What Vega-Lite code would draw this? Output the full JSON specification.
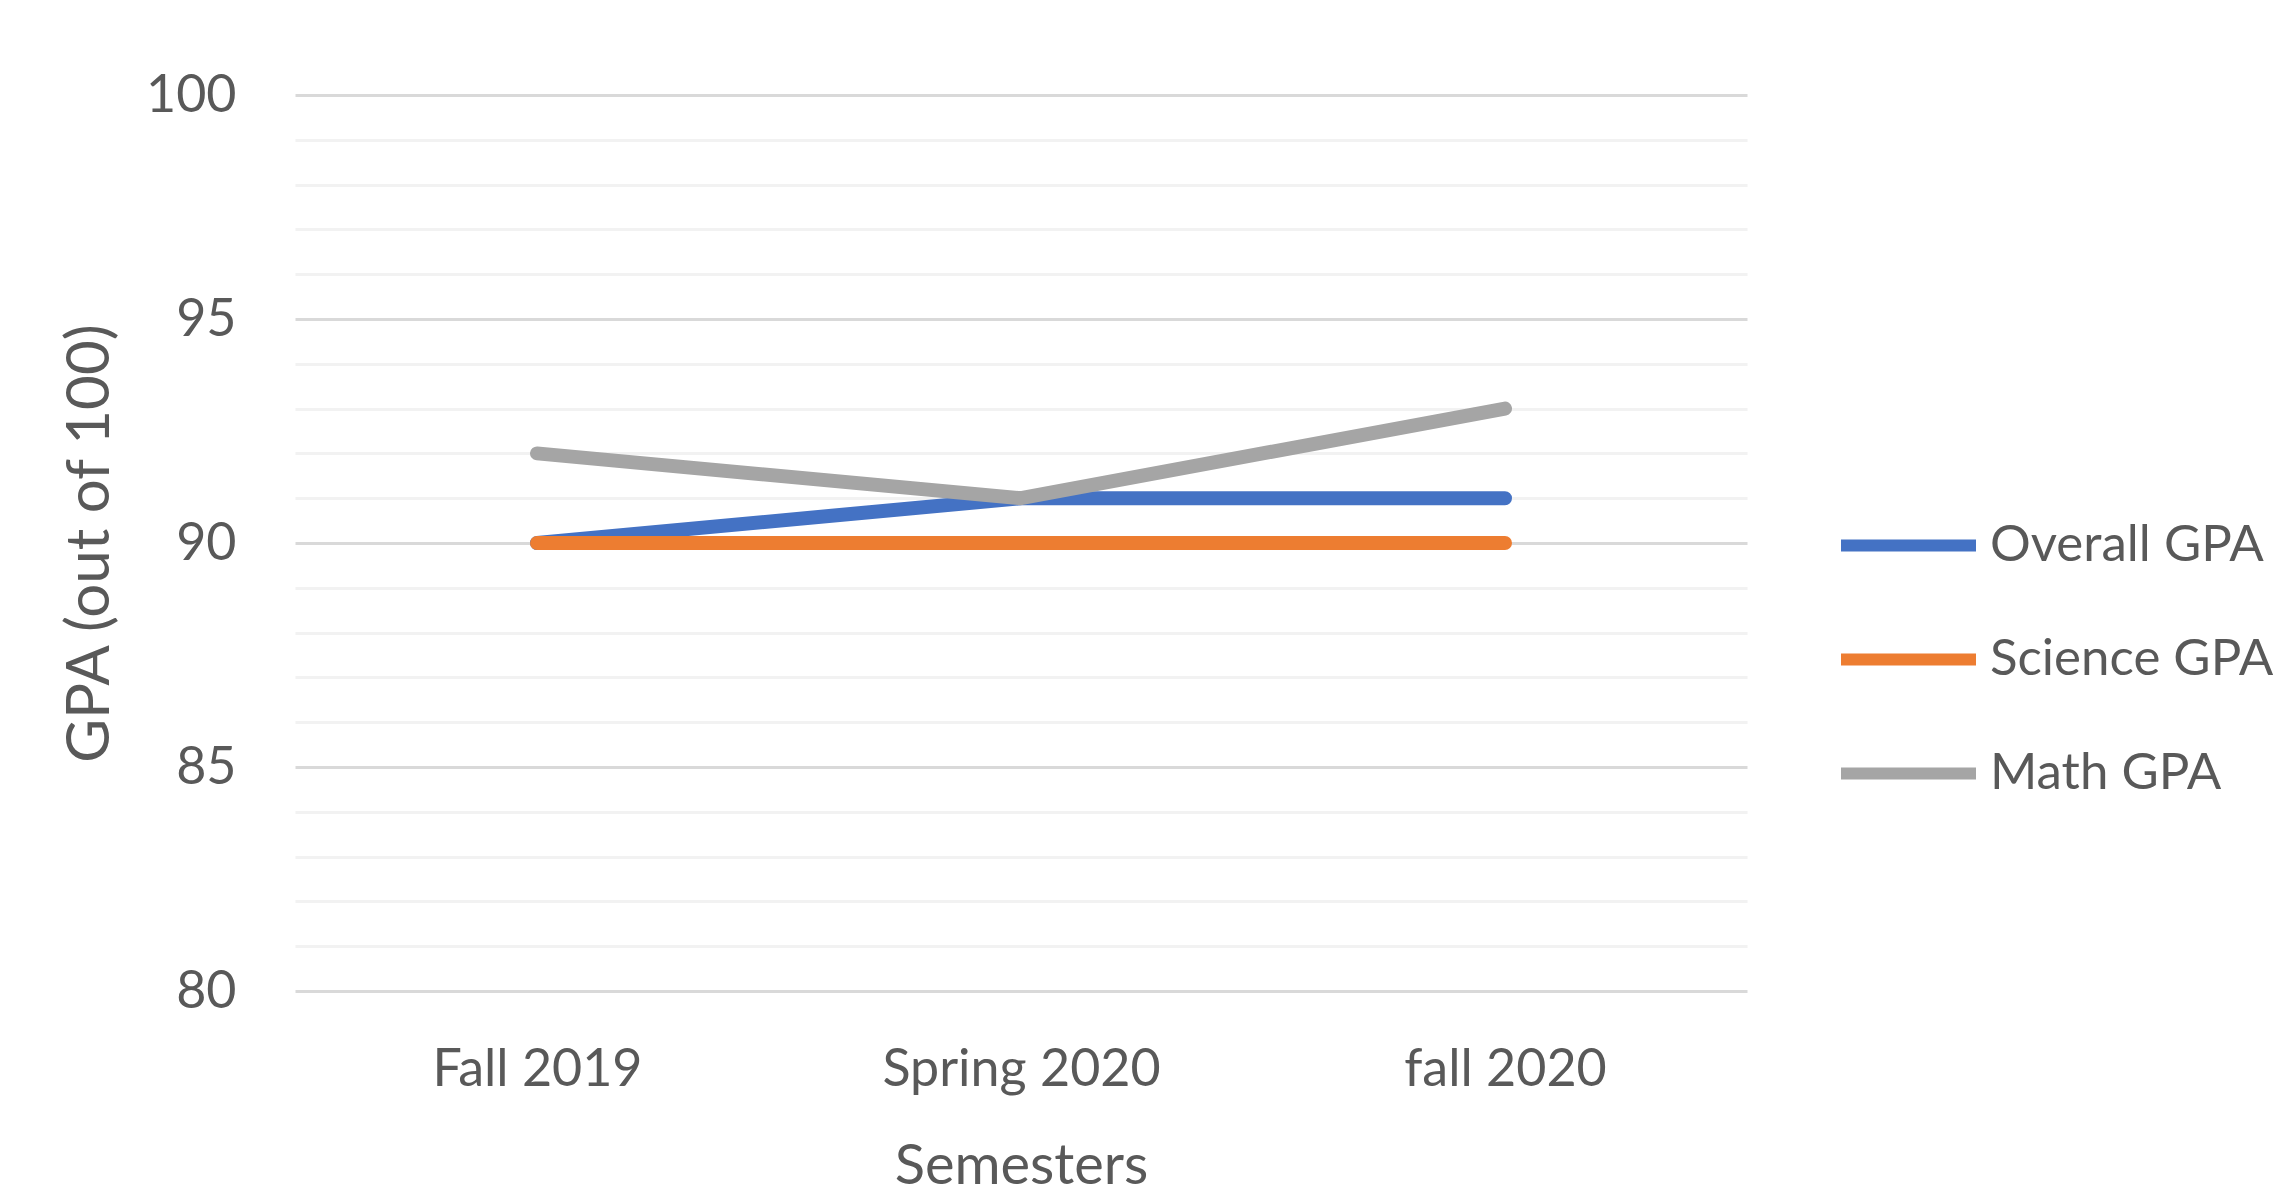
{
  "$schema": "https://vega.github.io/schema/vega-lite/v6.json",
  "autosize": {"type": "none"},
  "padding": {"left": 295, "top": 95, "right": 542, "bottom": 206},
  "width": 1452,
  "height": 896,
  "background": "white",
  "config": {
    "font": "Lato",
    "view": {"stroke": null}
  },
  "data": {
    "values": [
      {"semester": "Fall 2019", "series": "Overall GPA", "gpa": 90},
      {"semester": "Spring 2020", "series": "Overall GPA", "gpa": 91},
      {"semester": "fall 2020", "series": "Overall GPA", "gpa": 91},
      {"semester": "Fall 2019", "series": "Science GPA", "gpa": 90},
      {"semester": "Spring 2020", "series": "Science GPA", "gpa": 90},
      {"semester": "fall 2020", "series": "Science GPA", "gpa": 90},
      {"semester": "Fall 2019", "series": "Math GPA", "gpa": 92},
      {"semester": "Spring 2020", "series": "Math GPA", "gpa": 91},
      {"semester": "fall 2020", "series": "Math GPA", "gpa": 93}
    ]
  },
  "mark": {"type": "line", "strokeWidth": 14, "strokeCap": "round", "strokeJoin": "round"},
  "encoding": {
    "x": {
      "field": "semester",
      "type": "ordinal",
      "sort": ["Fall 2019", "Spring 2020", "fall 2020"],
      "title": "Semesters",
      "axis": {
        "domain": false,
        "ticks": false,
        "grid": false,
        "labelAngle": 0,
        "labelLimit": 0,
        "labelFontSize": 52,
        "labelColor": "#595959",
        "labelBaseline": "middle",
        "labelPadding": 78,
        "titleFontSize": 56,
        "titleFontWeight": "normal",
        "titleColor": "#595959",
        "titleBaseline": "middle",
        "titleY": 175
      }
    },
    "y": {
      "field": "gpa",
      "type": "quantitative",
      "scale": {"domain": [80, 100], "nice": false, "zero": false},
      "title": "GPA (out of 100)",
      "axis": {
        "values": [80, 81, 82, 83, 84, 85, 86, 87, 88, 89, 90, 91, 92, 93, 94, 95, 96, 97, 98, 99, 100],
        "labelExpr": "datum.value % 5 === 0 ? datum.label : ''",
        "domain": false,
        "ticks": false,
        "grid": true,
        "gridWidth": 3,
        "gridColor": {"condition": {"test": "datum.value % 5 === 0", "value": "#D9D9D9"}, "value": "#F2F2F2"},
        "labelFontSize": 52,
        "labelColor": "#595959",
        "labelPadding": 59,
        "titleFontSize": 60,
        "titleFontWeight": "normal",
        "titleColor": "#595959",
        "titleAngle": 270,
        "titleAlign": "center",
        "titleBaseline": "middle",
        "titleX": -205,
        "titleY": 448
      }
    },
    "color": {
      "field": "series",
      "type": "nominal",
      "sort": ["Overall GPA", "Science GPA", "Math GPA"],
      "scale": {"domain": ["Overall GPA", "Science GPA", "Math GPA"], "range": ["#4472C4", "#ED7D31", "#A5A5A5"]},
      "legend": {
        "title": null,
        "orient": "none",
        "legendX": 1540,
        "legendY": 377,
        "symbolType": "stroke",
        "symbolSize": 18225,
        "symbolStrokeWidth": 12,
        "labelFontSize": 51,
        "labelLimit": 0,
        "labelColor": "#595959",
        "labelOffset": 8,
        "rowPadding": 15
      }
    }
  }
}
